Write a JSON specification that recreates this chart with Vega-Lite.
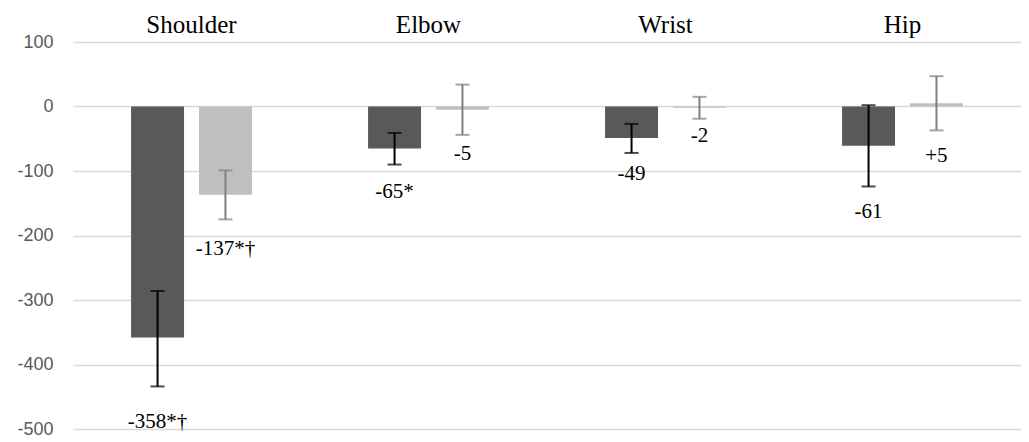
{
  "$schema": "https://vega.github.io/schema/vega-lite/v6.json",
  "width": 948,
  "height": 387,
  "autosize": "none",
  "padding": {"left": 73, "top": 42, "right": 8, "bottom": 13},
  "background": "white",
  "config": {"view": {"stroke": null}},
  "data": {
    "values": [
      {"joint": "Shoulder", "series": "A", "value": -358, "lo": -434, "hi": -286, "label": "-358*†", "label_y": -489},
      {"joint": "Shoulder", "series": "B", "value": -137, "lo": -175, "hi": -99, "label": "-137*†", "label_y": -221},
      {"joint": "Elbow", "series": "A", "value": -65, "lo": -90, "hi": -41, "label": "-65*", "label_y": -133},
      {"joint": "Elbow", "series": "B", "value": -5, "lo": -44, "hi": 34, "label": "-5", "label_y": -74},
      {"joint": "Wrist", "series": "A", "value": -49, "lo": -72, "hi": -27, "label": "-49", "label_y": -104},
      {"joint": "Wrist", "series": "B", "value": -2, "lo": -19, "hi": 15, "label": "-2", "label_y": -45},
      {"joint": "Hip", "series": "A", "value": -61, "lo": -124, "hi": 2, "label": "-61", "label_y": -163},
      {"joint": "Hip", "series": "B", "value": 5, "lo": -37, "hi": 47, "label": "+5", "label_y": -76}
    ]
  },
  "encoding": {
    "x": {
      "field": "joint",
      "type": "nominal",
      "sort": ["Shoulder", "Elbow", "Wrist", "Hip"],
      "scale": {"paddingInner": 0.49, "paddingOuter": 0.245},
      "axis": {
        "orient": "top",
        "title": null,
        "ticks": false,
        "domain": false,
        "labelPadding": 10,
        "labelBaseline": "alphabetic",
        "labelFont": "Liberation Serif",
        "labelFontSize": 25,
        "labelColor": "#000000",
        "labelAngle": 0
      }
    },
    "xOffset": {
      "field": "series",
      "type": "nominal",
      "scale": {"paddingInner": 0.22, "paddingOuter": 0}
    }
  },
  "layer": [
    {
      "mark": {"type": "bar"},
      "encoding": {
        "y": {
          "field": "value",
          "type": "quantitative",
          "scale": {"domain": [-500, 100], "nice": false},
          "axis": {
            "title": null,
            "values": [-500, -400, -300, -200, -100, 0, 100],
            "labelExpr": "datum.value + ''",
            "ticks": false,
            "domain": false,
            "labelFont": "Liberation Sans",
            "labelFontSize": 18,
            "labelColor": "#595959",
            "labelPadding": 20,
            "gridColor": "#d9d9d9",
            "gridWidth": 1.5
          }
        },
        "color": {
          "field": "series",
          "type": "nominal",
          "scale": {"domain": ["A", "B"], "range": ["#595959", "#bfbfbf"]},
          "legend": null
        }
      }
    },
    {
      "mark": {"type": "rule", "strokeWidth": 2},
      "encoding": {
        "y": {"field": "lo", "type": "quantitative"},
        "y2": {"field": "hi"},
        "color": {
          "field": "series",
          "type": "nominal",
          "scale": {"domain": ["A", "B"], "range": ["#000000", "#7f7f7f"]},
          "legend": null
        }
      }
    },
    {
      "mark": {"type": "tick", "size": 14, "thickness": 2},
      "encoding": {
        "y": {"field": "lo", "type": "quantitative"},
        "color": {
          "field": "series",
          "type": "nominal",
          "scale": {"domain": ["A", "B"], "range": ["#000000", "#7f7f7f"]},
          "legend": null
        }
      }
    },
    {
      "mark": {"type": "tick", "size": 14, "thickness": 2},
      "encoding": {
        "y": {"field": "hi", "type": "quantitative"},
        "color": {
          "field": "series",
          "type": "nominal",
          "scale": {"domain": ["A", "B"], "range": ["#000000", "#7f7f7f"]},
          "legend": null
        }
      }
    },
    {
      "mark": {"type": "text", "font": "Liberation Serif", "fontSize": 21, "color": "#000000", "baseline": "middle", "align": "center"},
      "encoding": {
        "y": {"field": "label_y", "type": "quantitative"},
        "text": {"field": "label"}
      }
    }
  ],
  "resolve": {"scale": {"color": "independent"}}
}
